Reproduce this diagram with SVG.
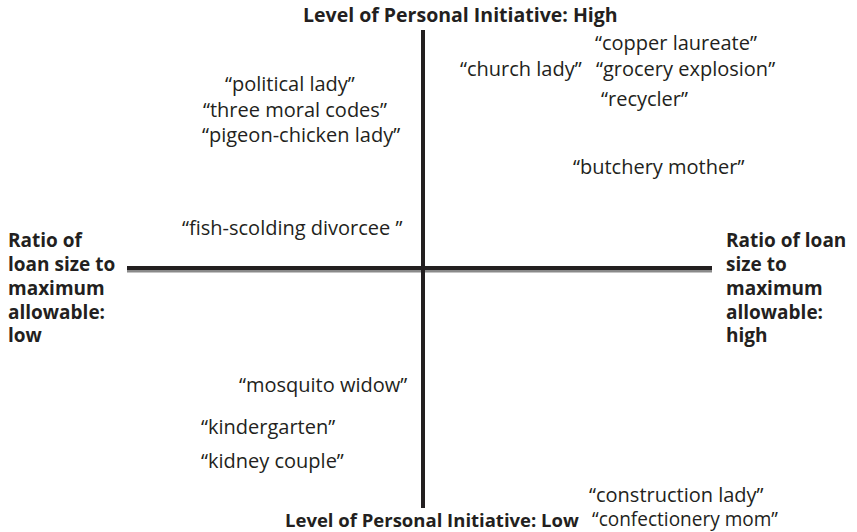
<svg xmlns="http://www.w3.org/2000/svg" width="857" height="532" viewBox="0 0 857 532">
<style>
text{font-family:"Open Sans","Noto Sans","DejaVu Sans",sans-serif;fill:#231f20}
.lb{font-size:20px}
.ax{font-size:19px;font-weight:bold}
.tt{font-size:19.5px;font-weight:bold}
</style>
<rect width="857" height="532" fill="#fff"/>
<g id="connectors">
<rect x="127" y="270" width="585" height="2.5" fill="#8a8a8a"/>
<rect x="127" y="266" width="585" height="4" fill="#231f20"/>
<rect x="421" y="30" width="4" height="478" fill="#231f20"/>
</g>
<g id="axis-top"><text class="tt" x="303" y="22">Level of Personal Initiative: High</text></g>
<g id="axis-bottom"><text class="tt" x="285" y="527" style="font-size:18.5px">Level of Personal Initiative: Low</text></g>
<g id="axis-left"><text class="ax"><tspan x="8" y="247">Ratio of</tspan><tspan x="8" y="271">loan size to</tspan><tspan x="8" y="294.5">maximum</tspan><tspan x="8" y="318.5">allowable:</tspan><tspan x="8" y="342">low</tspan></text></g>
<g id="axis-right"><text class="ax"><tspan x="726" y="247">Ratio of loan</tspan><tspan x="726" y="271">size to</tspan><tspan x="726" y="294.5">maximum</tspan><tspan x="726" y="318.5">allowable:</tspan><tspan x="726" y="342">high</tspan></text></g>
<g id="copper-laureate"><text class="lb" x="595" y="50">“copper laureate”</text></g>
<g id="church-lady"><text class="lb" x="460" y="76">“church lady”</text></g>
<g id="grocery-explosion"><text class="lb" x="596" y="76">“grocery explosion”</text></g>
<g id="recycler"><text class="lb" x="601" y="106">“recycler”</text></g>
<g id="political-lady"><text class="lb" x="225" y="91">“political lady”</text></g>
<g id="three-moral-codes"><text class="lb" x="203" y="117">“three moral codes”</text></g>
<g id="pigeon-chicken-lady"><text class="lb" x="202" y="142">“pigeon-chicken lady”</text></g>
<g id="butchery-mother"><text class="lb" x="573" y="174">“butchery mother”</text></g>
<g id="fish-scolding-divorcee"><text class="lb" x="182" y="235">“fish-scolding divorcee ”</text></g>
<g id="mosquito-widow"><text class="lb" x="239" y="392">“mosquito widow”</text></g>
<g id="kindergarten"><text class="lb" x="201" y="434">“kindergarten”</text></g>
<g id="kidney-couple"><text class="lb" x="201" y="468">“kidney couple”</text></g>
<g id="construction-lady"><text class="lb" x="589" y="502">“construction lady”</text></g>
<g id="confectionery-mom"><text class="lb" x="592" y="526" textLength="186" lengthAdjust="spacingAndGlyphs">“confectionery mom”</text></g>
</svg>
